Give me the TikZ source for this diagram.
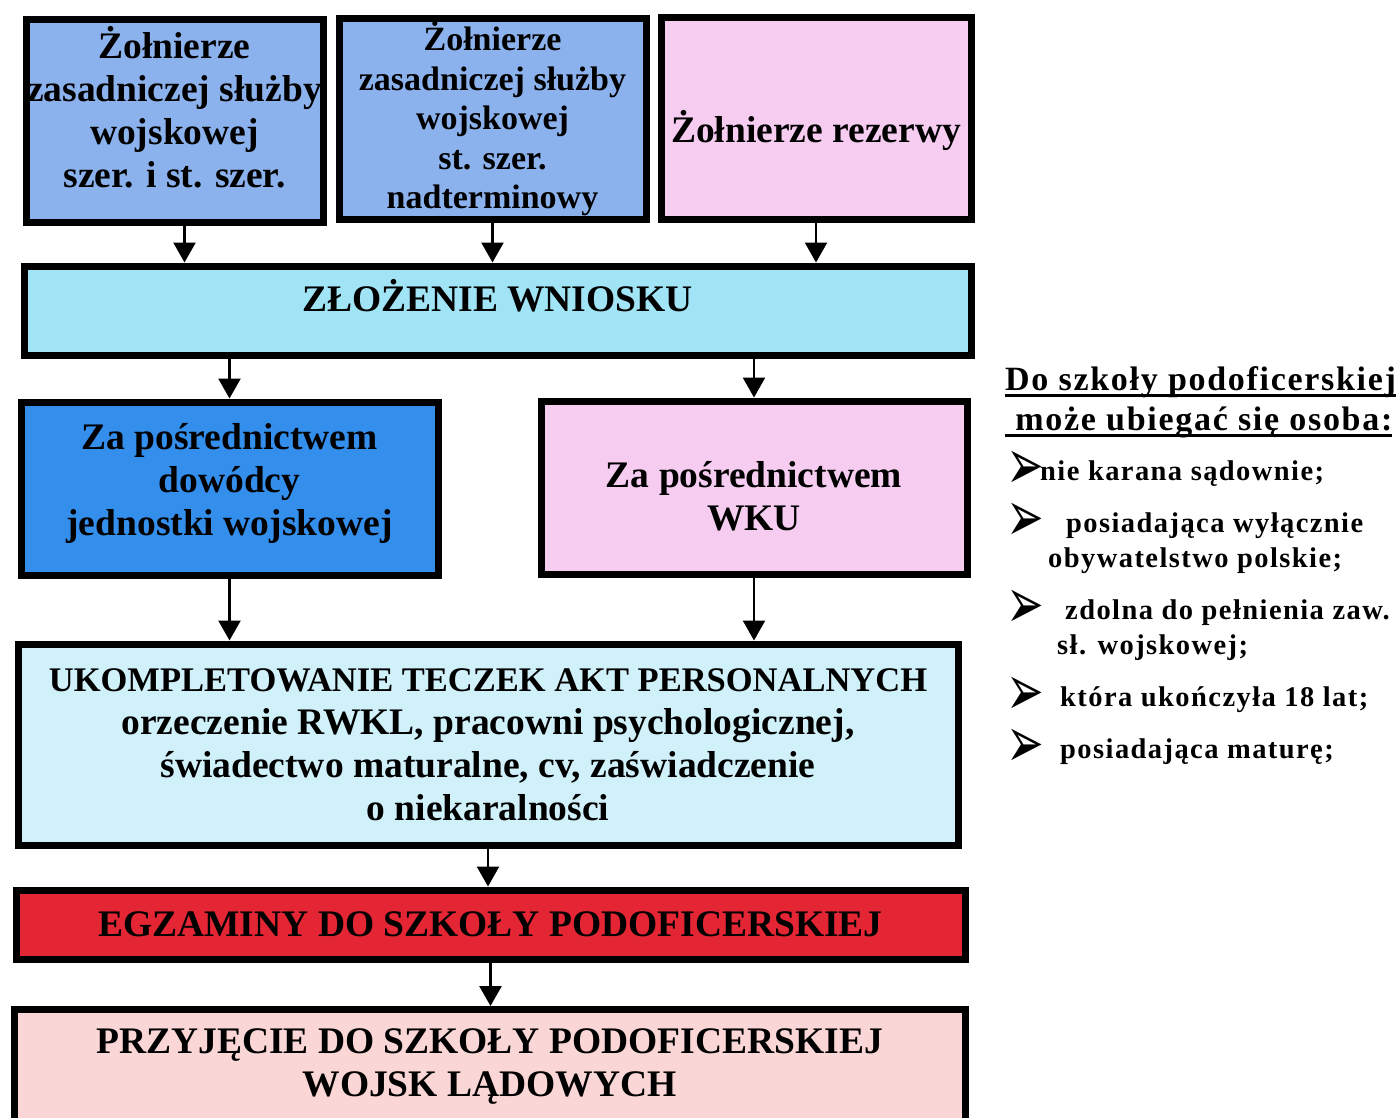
\documentclass[tikz,border=0pt]{standalone}
\usepackage{fontspec}
\usepackage{graphicx}
\usepackage{xcolor}
\usepackage{tikz}
\usetikzlibrary{shapes,arrows.meta,positioning}
\setmainfont{Liberation Serif}
\newfontfamily\sidefont[LetterSpace=5]{Liberation Serif}
\newfontfamily\arrfont{DejaVu Sans}
\definecolor{softblue}{RGB}{140,178,238}
\definecolor{deepblue}{RGB}{52,142,236}
\definecolor{lightcyan}{RGB}{160,228,246}
\definecolor{palecyan}{RGB}{208,240,250}
\definecolor{softpink}{RGB}{246,204,240}
\definecolor{palepink}{RGB}{250,214,214}
\definecolor{examred}{RGB}{228,38,52}
\newcommand{\undl}[1]{\setbox0\hbox{#1}\rlap{\vrule height -4pt depth 7pt width \wd0}\box0}
\newcommand{\bul}{\makebox[0pt][l]{\raisebox{-9pt}[0pt][0pt]{\arrfont\mdseries\fontsize{30}{30}\selectfont\scalebox{1.5}[2.4]{➢}}}}
\newcommand{\lift}[2]{\raisebox{#1}[\height][\depth]{\begin{tabular}{@{}c@{}}#2\end{tabular}}}

\begin{document}
\begin{tikzpicture}[x=1pt,y=-1pt]
    % Define block styles
    \tikzstyle{block} = [rectangle, draw, line width=7pt, align=center, inner sep=0pt,
        font=\bfseries\fontsize{37.5}{43}\selectfont]
    \tikzstyle{link} = [draw, line width=2.5pt, -{Triangle[width=22pt,length=20pt]}]
    \tikzstyle{side} = [anchor=base west, align=left, inner sep=0pt,
        font=\sidefont\bfseries\fontsize{28.5}{35}\selectfont]

    \useasboundingbox (0,0) rectangle (1399,1118);
    \clip (0,0) rectangle (1399,1118);
    \fill[white] (0,0) rectangle (1399,1118);

    % Place nodes
    \node [block, fill=softblue, minimum width=297pt, minimum height=202pt] (b1) at (174.5,121)
        {\lift{8pt}{Żołnierze\\zasadniczej służby\\wojskowej\\szer. i st. szer.}};
    \node [block, fill=softblue, minimum width=307pt, minimum height=200pt,
        font=\bfseries\fontsize{34}{39.5}\selectfont] (b2) at (492.5,119)
        {Żołnierze\\zasadniczej służby\\wojskowej\\st. szer.\\nadterminowy};
    \node [block, fill=softpink, minimum width=310pt, minimum height=201pt] (b3) at (816,118.5)
        {\lift{-14pt}{Żołnierze rezerwy}};
    \node [block, fill=lightcyan, minimum width=947pt, minimum height=89pt] (zl) at (497.5,310.5)
        {\lift{9pt}{ZŁOŻENIE WNIOSKU}};
    \node [block, fill=deepblue, minimum width=417pt, minimum height=173pt] (dow) at (229.5,488.5)
        {\lift{5pt}{Za pośrednictwem\\dowódcy\\jednostki wojskowej}};
    \node [block, fill=softpink, minimum width=426pt, minimum height=173pt] (wku) at (754,487.5)
        {\lift{-13pt}{Za pośrednictwem\\WKU}};
    \node [block, fill=palecyan, minimum width=940pt, minimum height=201pt] (uk) at (488,744.5)
        {{\fontsize{34.5}{43}\selectfont UKOMPLETOWANIE TECZEK AKT PERSONALNYCH}\\orzeczenie RWKL, pracowni psychologicznej,\\świadectwo maturalne, cv, zaświadczenie\\o niekaralności};
    \node [block, fill=examred, minimum width=949pt, minimum height=69pt] (eg) at (490.5,924.5)
        {EGZAMINY DO SZKOŁY PODOFICERSKIEJ};
    \node [block, fill=palepink, minimum width=951pt, anchor=north, inner ysep=19pt] (prz) at (489.5,1006)
        {\parbox[c][115pt][t]{940pt}{\centering PRZYJĘCIE DO SZKOŁY PODOFICERSKIEJ\\WOJSK LĄDOWYCH}};

    % Side notes
    \node [side, font=\sidefont\bfseries\fontsize{34}{40}\selectfont] (head) at (1005,430)
        {\undl{Do szkoły podoficerskiej}\\\undl{\ może ubiegać się osoba:}};
    \node [side] (it1) at (1006,480) {\bul\hspace*{34pt}nie karana sądownie;};
    \node [side] (it2) at (1006,567) {\bul\hspace*{60pt}posiadająca wyłącznie\\\hspace*{42pt}obywatelstwo polskie;};
    \node [side] (it3) at (1006,654) {\bul\hspace*{59pt}zdolna do pełnienia zaw.\\\hspace*{51pt}sł. wojskowej;};
    \node [side] (it4) at (1006,706) {\bul\hspace*{54pt}która ukończyła 18 lat;};
    \node [side] (it5) at (1006,758) {\bul\hspace*{54pt}posiadająca maturę;};

    % Connect nodes
    \draw [link] ([xshift=10pt]b1.south) -- ([xshift=10pt]b1.south |- zl.north);
    \draw [link] (b2.south) -- (b2.south |- zl.north);
    \draw [link] (b3.south) -- (b3.south |- zl.north);
    \draw [link] (zl.south -| dow) -- (dow.north);
    \draw [link] (zl.south -| wku) -- (wku.north);
    \draw [link] (dow.south) -- (dow.south |- uk.north);
    \draw [link] (wku.south) -- (wku.south |- uk.north);
    \draw [link] (uk.south) -- (uk.south |- eg.north);
    \draw [link] (eg.south) -- (eg.south |- prz.north);
\end{tikzpicture}
\end{document}
